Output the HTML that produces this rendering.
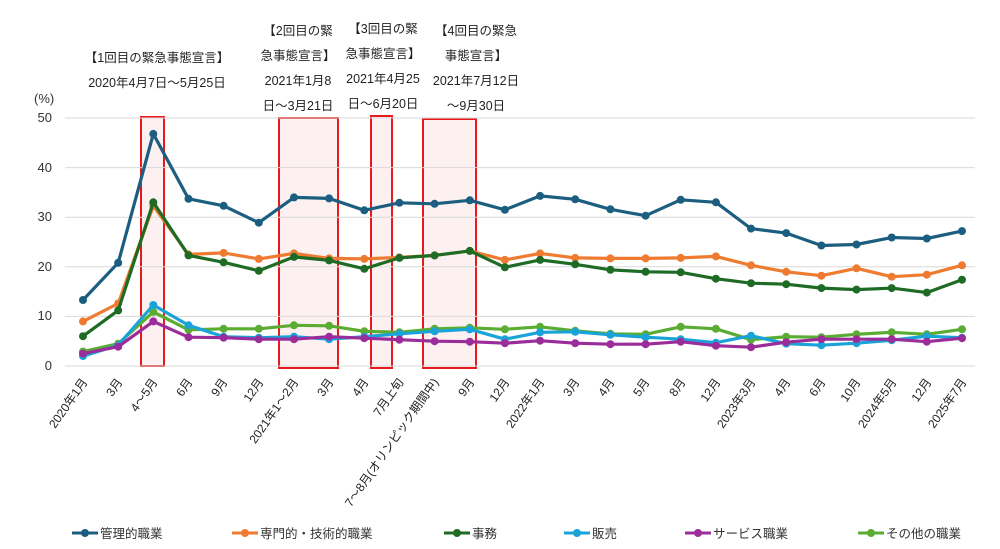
<!DOCTYPE html>
<html><head><meta charset="utf-8"><style>
body{margin:0;background:#fff;}
svg{display:block;font-family:"Liberation Sans","Noto Sans CJK JP",sans-serif;}
</style></head><body>
<svg id="c" width="1000" height="549" viewBox="0 0 1000 549">
<g fill="#fdf0f0" stroke="#e8191a" stroke-width="2">
<rect x="141" y="117" width="23" height="249"/>
<rect x="279" y="118" width="59" height="250"/>
<rect x="371" y="116" width="21" height="252"/>
<rect x="423" y="119" width="53" height="249"/>
</g>
<g stroke="#d9d9d9" stroke-width="1">
<line x1="65" x2="975" y1="118" y2="118"/><line x1="65" x2="975" y1="167.6" y2="167.6"/>
<line x1="65" x2="975" y1="217.2" y2="217.2"/><line x1="65" x2="975" y1="266.8" y2="266.8"/>
<line x1="65" x2="975" y1="316.4" y2="316.4"/><line x1="65" x2="975" y1="366" y2="366"/>
</g>
<g font-size="13" fill="#333" text-anchor="end">
<text x="52" y="122">50</text><text x="52" y="172">40</text><text x="52" y="221">30</text>
<text x="52" y="271">20</text><text x="52" y="320">10</text><text x="52" y="370">0</text>
</g>
<text x="34" y="103" font-size="13" fill="#333">(%)</text>
<g font-size="12.5" fill="#222" text-anchor="middle">
<text x="157" y="62">【1回目の緊急事態宣言】</text>
<text x="157" y="87">2020年4月7日～5月25日</text>
<text x="298" y="35">【2回目の緊</text><text x="298" y="60">急事態宣言】</text>
<text x="298" y="85">2021年1月8</text><text x="298" y="110">日～3月21日</text>
<text x="383" y="33">【3回目の緊</text><text x="383" y="58">急事態宣言】</text>
<text x="383" y="83">2021年4月25</text><text x="383" y="108">日～6月20日</text>
<text x="476" y="35">【4回目の緊急</text><text x="476" y="60">事態宣言】</text>
<text x="476" y="85">2021年7月12日</text><text x="476" y="110">～9月30日</text>
</g>
<g id="series"></g>
<g font-size="12" fill="#222" text-anchor="end">
<text transform="translate(88,382) rotate(-55)">2020年1月</text>
<text transform="translate(123,382) rotate(-55)">3月</text>
<text transform="translate(158,382) rotate(-55)">4～5月</text>
<text transform="translate(193,382) rotate(-55)">6月</text>
<text transform="translate(228,382) rotate(-55)">9月</text>
<text transform="translate(264,382) rotate(-55)">12月</text>
<text transform="translate(299,382) rotate(-55)">2021年1～2月</text>
<text transform="translate(334,382) rotate(-55)">3月</text>
<text transform="translate(369,382) rotate(-55)">4月</text>
<text transform="translate(404,382) rotate(-55)">7月上旬</text>
<text transform="translate(439,382) rotate(-55)">7～8月(オリンピック期間中)</text>
<text transform="translate(475,382) rotate(-55)">9月</text>
<text transform="translate(510,382) rotate(-55)">12月</text>
<text transform="translate(545,382) rotate(-55)">2022年1月</text>
<text transform="translate(580,382) rotate(-55)">3月</text>
<text transform="translate(615,382) rotate(-55)">4月</text>
<text transform="translate(650,382) rotate(-55)">5月</text>
<text transform="translate(686,382) rotate(-55)">8月</text>
<text transform="translate(721,382) rotate(-55)">12月</text>
<text transform="translate(756,382) rotate(-55)">2023年3月</text>
<text transform="translate(791,382) rotate(-55)">4月</text>
<text transform="translate(826,382) rotate(-55)">6月</text>
<text transform="translate(861,382) rotate(-55)">10月</text>
<text transform="translate(897,382) rotate(-55)">2024年5月</text>
<text transform="translate(932,382) rotate(-55)">12月</text>
<text transform="translate(967,382) rotate(-55)">2025年7月</text>
</g>
<g font-size="12.5" fill="#333" stroke-width="3">
<line x1="72" x2="98" y1="533" y2="533" stroke="#1b5e80"/><circle cx="85" cy="533" r="4" fill="#1b5e80"/><text x="100" y="538">管理的職業</text>
<line x1="232" x2="258" y1="533" y2="533" stroke="#ee7b30"/><circle cx="245" cy="533" r="4" fill="#ee7b30"/><text x="260" y="538">専門的・技術的職業</text>
<line x1="444" x2="470" y1="533" y2="533" stroke="#1e6b25"/><circle cx="457" cy="533" r="4" fill="#1e6b25"/><text x="472" y="538">事務</text>
<line x1="564" x2="590" y1="533" y2="533" stroke="#1aa3d9"/><circle cx="577" cy="533" r="4" fill="#1aa3d9"/><text x="592" y="538">販売</text>
<line x1="685" x2="711" y1="533" y2="533" stroke="#9b2d9b"/><circle cx="698" cy="533" r="4" fill="#9b2d9b"/><text x="713" y="538">サービス職業</text>
<line x1="858" x2="884" y1="533" y2="533" stroke="#5aad32"/><circle cx="871" cy="533" r="4" fill="#5aad32"/><text x="886" y="538">その他の職業</text>
</g>
</svg>
<script>
var S=[
["#5aad32",[2.9,4.5,10.9,7.3,7.5,7.5,8.2,8.1,7,6.8,7.5,7.7,7.4,7.9,7.1,6.5,6.4,7.9,7.5,5.3,5.9,5.8,6.4,6.8,6.4,7.4]],
["#1aa3d9",[2,4.2,12.3,8.2,5.9,5.7,5.9,5.4,5.9,6.5,7,7.4,5.4,6.8,6.9,6.3,5.8,5.4,4.7,6.1,4.5,4.2,4.6,5.2,6,5.7]],
["#9b2d9b",[2.5,3.9,9,5.8,5.7,5.4,5.4,5.9,5.6,5.3,5,4.9,4.6,5.1,4.6,4.4,4.4,4.9,4.1,3.8,4.8,5.4,5.4,5.4,4.9,5.6]],
["#ee7b30",[9,12.6,32.3,22.5,22.8,21.6,22.7,21.7,21.6,21.9,22.3,23.2,21.4,22.7,21.8,21.7,21.7,21.8,22.1,20.3,19,18.2,19.7,18,18.4,20.3]],
["#1e6b25",[6,11.2,33,22.3,20.9,19.2,22,21.3,19.6,21.8,22.3,23.2,19.9,21.4,20.5,19.4,19,18.9,17.6,16.7,16.5,15.7,15.4,15.7,14.8,17.4]],
["#1b5e80",[13.3,20.8,46.8,33.7,32.3,28.9,34,33.8,31.4,32.9,32.7,33.4,31.5,34.3,33.6,31.6,30.3,33.5,33,27.7,26.8,24.3,24.5,25.9,25.7,27.2]]
];
var g=document.getElementById("series"),h="";
S.forEach(function(s){var p=s[1].map(function(v,i){return (83+35.16*i).toFixed(1)+","+(366-v*4.96).toFixed(1)});
h+='<polyline fill="none" stroke="'+s[0]+'" stroke-width="3.2" stroke-linejoin="round" points="'+p.join(" ")+'"/>';
p.forEach(function(q){var a=q.split(",");h+='<circle cx="'+a[0]+'" cy="'+a[1]+'" r="4" fill="'+s[0]+'"/>';});});
g.innerHTML=h;
</script>
</body></html>
